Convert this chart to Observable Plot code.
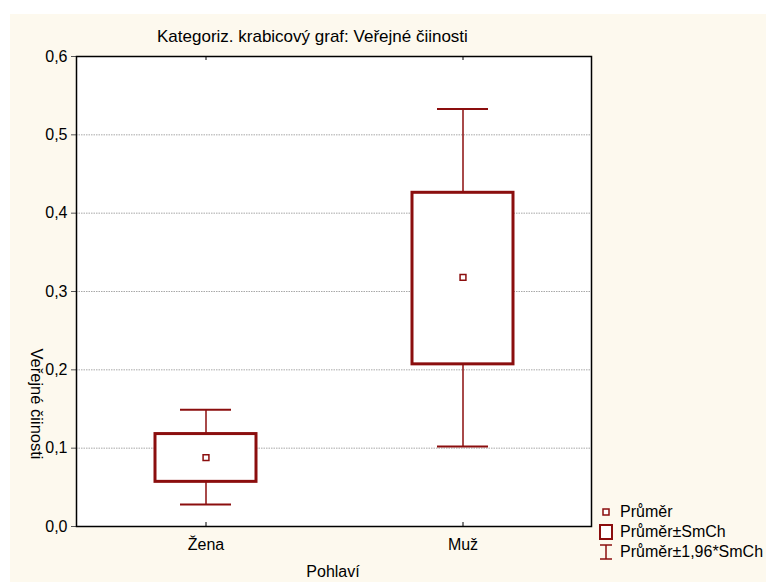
<!DOCTYPE html>
<html>
<head>
<meta charset="utf-8">
<script src="https://cdn.jsdelivr.net/npm/d3@7"></script>
<script src="https://cdn.jsdelivr.net/npm/@observablehq/plot@0.6"></script>
<style>
  body { margin: 0; background: #ffffff; font-family: "Liberation Sans", Arial, sans-serif; }
  #wrap { position: relative; width: 766px; height: 582px; overflow: hidden; }
  #bg { position: absolute; left: 10px; top: 14px; right: 0; bottom: 0; background: #fdf9ee; }
  #chart { position: absolute; left: 0; top: 0; }
  .txt { position: absolute; color: #000; white-space: nowrap; line-height: 1; }
  #title { left: 157px; top: 28px; font-size: 17px; }
  #xlabel { left: 333px; top: 564px; transform: translateX(-50%); font-size: 16px; }
  #ylabel { left: 37px; top: 404px; transform: translate(-50%, -50%) rotate(90deg); font-size: 16.5px; }
  #legend { position: absolute; left: 598px; top: 502px; font-size: 16px; }
  .item { display: flex; align-items: center; height: 20px; }
  .item svg { width: 16px; height: 18px; margin-right: 6px; }
</style>
</head>
<body>
<div id="wrap">
  <div id="bg"></div>
  <div id="chart"></div>
  <div class="txt" id="title">Kategoriz. krabicový graf: Veřejné čiinosti</div>
  <div class="txt" id="xlabel">Pohlaví</div>
  <div class="txt" id="ylabel">Veřejné čiinosti</div>
  <div id="legend"></div>
</div>
<script>
// Categories and summary statistics (mean, mean ± SE, mean ± 1.96*SE)
const categories = ["Žena", "Muž"];
const means = [0.088, 0.318];
const seLow = [0.057, 0.207];
const seHigh = [0.118, 0.426];
const ciLow = [0.028, 0.102];
const ciHigh = [0.149, 0.533];
const yTicks = [0, 0.1, 0.2, 0.3, 0.4, 0.5, 0.6];
const legendLabels = ["Průměr", "Průměr±SmCh", "Průměr±1,96*SmCh"];

const red = "#8b0e0e";

const rows = categories.map((c, i) => ({
  cat: c, mean: means[i], lo: seLow[i], hi: seHigh[i], wlo: ciLow[i], whi: ciHigh[i]
}));

const fmt = d => d.toFixed(1).replace(".", ",");

const chart = Plot.plot({
  width: 766,
  height: 582,
  marginLeft: 76,
  marginRight: 175,
  marginTop: 56,
  marginBottom: 56,
  style: { background: "transparent", fontSize: "16px", fontFamily: "'Liberation Sans', Arial, sans-serif", color: "#000" },
  x: { domain: categories, padding: 0, label: null },
  y: { domain: [0, 0.6], label: null },
  marks: [
    Plot.frame({ fill: "white", stroke: "none" }),
    Plot.gridY(yTicks.slice(1, -1), { stroke: "#a8a8a8", strokeOpacity: 1, strokeDasharray: "1.5,1" }),
    // whiskers
    Plot.ruleX(rows, { x: "cat", y1: "wlo", y2: "lo", stroke: red, strokeWidth: 1.5 }),
    Plot.ruleX(rows, { x: "cat", y1: "hi", y2: "whi", stroke: red, strokeWidth: 1.5 }),
    Plot.tickY(rows, { x: "cat", y: "wlo", stroke: red, strokeWidth: 2, insetLeft: 103, insetRight: 103 }),
    Plot.tickY(rows, { x: "cat", y: "whi", stroke: red, strokeWidth: 2, insetLeft: 103, insetRight: 103 }),
    // boxes
    Plot.barY(rows, { x: "cat", y1: "lo", y2: "hi", fill: "white", stroke: red, strokeWidth: 3, insetLeft: 78, insetRight: 78 }),
    // means
    Plot.dot(rows, { x: "cat", y: "mean", symbol: "square", r: 3.3, fill: "white", stroke: red, strokeWidth: 1.5 }),
    // axes
    Plot.axisY(yTicks, { tickFormat: fmt, tickSize: 5, tickPadding: 4, stroke: "#555", label: null }),
    Plot.axisX({ tickSize: 0, tickPadding: 12, label: null }),
    Plot.ruleX(categories, { x: d => d, insetTop: 466, stroke: "#000", strokeWidth: 1 }),
    Plot.ruleX(categories, { x: d => d, insetBottom: 466, stroke: "#000", strokeWidth: 1 }),
    Plot.frame({ stroke: "#000", strokeWidth: 1.5 })
  ]
});
document.getElementById("chart").appendChild(chart);

// legend
const symbols = [
  `<rect x="5" y="6" width="6" height="6" fill="white" stroke="${red}" stroke-width="1.5"/>`,
  `<rect x="2" y="2" width="12" height="14" fill="white" stroke="${red}" stroke-width="2"/>`,
  `<line x1="2" y1="2" x2="14" y2="2" stroke="${red}" stroke-width="1.5"/><line x1="8" y1="2" x2="8" y2="16" stroke="${red}" stroke-width="1.5"/><line x1="2" y1="16" x2="14" y2="16" stroke="${red}" stroke-width="1.5"/>`
];
const legend = document.getElementById("legend");
legendLabels.forEach((label, i) => {
  const item = document.createElement("div");
  item.className = "item";
  item.innerHTML = `<svg viewBox="0 0 16 18">${symbols[i]}</svg><span>${label}</span>`;
  legend.appendChild(item);
});
</script>
</body>
</html>
